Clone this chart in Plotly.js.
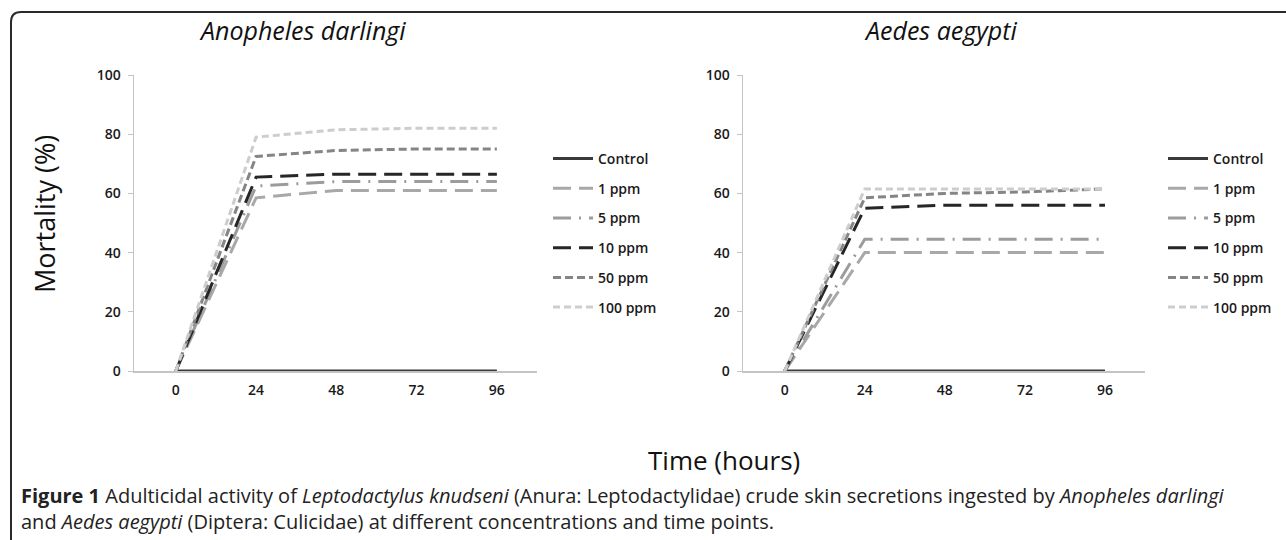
<!DOCTYPE html>
<html>
<head>
<meta charset="utf-8">
<script src="https://cdn.plot.ly/plotly-3.0.1.min.js"></script>
<style>
  html, body { margin: 0; padding: 0; background: #fff; }
  #chart { width: 1286px; height: 540px; }
</style>
</head>
<body>
<div id="chart"></div>
<script>
// ---- data ----
const hours = [0, 24, 48, 72, 96];
const hourLabels = ['0', '24', '48', '72', '96'];
const yTicks = [0, 20, 40, 60, 80, 100];
const seriesNames = ['Control', '1 ppm', '5 ppm', '10 ppm', '50 ppm', '100 ppm'];

const anophelesControl = [0, 0, 0, 0, 0];
const anopheles1ppm    = [0, 58.5, 61, 61, 61];
const anopheles5ppm    = [0, 62.5, 64, 64, 64];
const anopheles10ppm   = [0, 65.5, 66.5, 66.5, 66.5];
const anopheles50ppm   = [0, 72.5, 74.5, 75, 75];
const anopheles100ppm  = [0, 79, 81.5, 82, 82];

const aedesControl = [0, 0, 0, 0, 0];
const aedes1ppm    = [0, 40, 40, 40, 40];
const aedes5ppm    = [0, 44.5, 44.5, 44.5, 44.5];
const aedes10ppm   = [0, 55, 56, 56, 56];
const aedes50ppm   = [0, 58.5, 60, 60.5, 61.5];
const aedes100ppm  = [0, 61.5, 61.5, 61.5, 61.5];

const panelTitles = ['Anopheles darlingi', 'Aedes aegypti'];
const yTitle = 'Mortality (%)';
const xTitle = 'Time (hours)';
const captionLine1 = '<b>Figure 1</b> Adulticidal activity of <i>Leptodactylus knudseni</i> (Anura: Leptodactylidae) crude skin secretions ingested by <i>Anopheles darlingi</i>';
const captionLine2 = 'and <i>Aedes aegypti</i> (Diptera: Culicidae) at different concentrations and time points.';

// ---- styles ----
const styles = [
  {color: '#3a3a3a', width: 3, dash: 'solid'},
  {color: '#a8a8a8', width: 3, dash: '18px,8px'},
  {color: '#9c9c9c', width: 3, dash: '18px,8px,2px,8px'},
  {color: '#262626', width: 3, dash: '18px,8px'},
  {color: '#858585', width: 3, dash: '8px,4px'},
  {color: '#cdcdcd', width: 3, dash: '7px,4px'}
];

const W = 1286, H = 540;
const px = v => v / W;
const py = v => 1 - v / H;

const leftSets = [anophelesControl, anopheles1ppm, anopheles5ppm, anopheles10ppm, anopheles50ppm, anopheles100ppm];
const rightSets = [aedesControl, aedes1ppm, aedes5ppm, aedes10ppm, aedes50ppm, aedes100ppm];

const traces = [];
leftSets.forEach((ys, i) => {
  traces.push({
    x: hours, y: ys, type: 'scatter', mode: 'lines', name: seriesNames[i],
    xaxis: 'x', yaxis: 'y', legend: 'legend', legendgroup: 'L' + i,
    line: Object.assign({}, styles[i]), hoverinfo: 'skip'
  });
});
rightSets.forEach((ys, i) => {
  traces.push({
    x: hours, y: ys, type: 'scatter', mode: 'lines', name: seriesNames[i],
    xaxis: 'x2', yaxis: 'y2', legend: 'legend2', legendgroup: 'R' + i,
    line: Object.assign({}, styles[i]), hoverinfo: 'skip'
  });
});

const tickFont = {family: 'Open Sans, sans-serif', size: 14, color: '#1a1a1a', weight: 600};
const axisColor = '#c4c4c4';
const xRange = [-12.5, 108];

function xAxis(domain, anchor) {
  return {
    domain: domain, range: xRange, anchor: anchor,
    tickmode: 'array', tickvals: hours, ticktext: hourLabels,
    ticks: '', showgrid: false, zeroline: false,
    showline: true, linecolor: axisColor, linewidth: 1.5,
    tickfont: tickFont, ticklabelstandoff: 6, fixedrange: true
  };
}
function yAxis(domain, anchor) {
  return {
    domain: domain, range: [0, 100], anchor: anchor,
    tickmode: 'array', tickvals: yTicks,
    ticks: 'outside', ticklen: 5, tickcolor: axisColor, tickwidth: 1,
    showgrid: false, zeroline: false,
    showline: true, linecolor: axisColor, linewidth: 1.5,
    tickfont: tickFont, ticklabelstandoff: 4, fixedrange: true
  };
}

const yDom = [py(371), py(75)];
const xDomL = [px(134), px(537)];
const xDomR = [px(743), px(1145)];

const legendBase = {
  traceorder: 'grouped', tracegroupgap: 8.5,
  font: {family: 'Open Sans, sans-serif', size: 14, color: '#1a1a1a', weight: 600},
  bgcolor: 'rgba(0,0,0,0)', borderwidth: 0,
  xanchor: 'left', yanchor: 'top', itemwidth: 40
};

const layout = {
  width: W, height: H,
  margin: {l: 0, r: 0, t: 0, b: 0},
  paper_bgcolor: '#ffffff', plot_bgcolor: '#ffffff',
  showlegend: true,
  xaxis: xAxis(xDomL, 'y'),
  yaxis: yAxis(yDom, 'x'),
  xaxis2: xAxis(xDomR, 'y2'),
  yaxis2: yAxis(yDom, 'x2'),
  // tick marks between categories on right panel
  xaxis3: {
    overlaying: 'x2', anchor: 'y2', range: xRange, domain: xDomR,
    tickmode: 'array', tickvals: [12, 36, 60, 84, 108],
    ticks: 'outside', ticklen: 5, tickcolor: axisColor, tickwidth: 1,
    showticklabels: false, showline: false, showgrid: false, zeroline: false,
    fixedrange: true
  },
  legend: Object.assign({}, legendBase, {x: px(548), y: py(143)}),
  legend2: Object.assign({}, legendBase, {x: px(1163), y: py(143)}),
  annotations: [
    {text: panelTitles[0], xref: 'paper', yref: 'paper', x: px(302), y: py(30),
     showarrow: false, xanchor: 'center', yanchor: 'middle',
     font: {family: 'Open Sans, sans-serif', size: 25, color: '#111', style: 'italic'}},
    {text: panelTitles[1], xref: 'paper', yref: 'paper', x: px(940), y: py(30),
     showarrow: false, xanchor: 'center', yanchor: 'middle',
     font: {family: 'Open Sans, sans-serif', size: 25, color: '#111', style: 'italic'}},
    {text: yTitle, xref: 'paper', yref: 'paper', x: px(44), y: py(214), textangle: -90,
     showarrow: false, xanchor: 'center', yanchor: 'middle',
     font: {family: 'Open Sans, sans-serif', size: 27, color: '#111'}},
    {text: xTitle, xref: 'paper', yref: 'paper', x: px(724), y: py(460),
     showarrow: false, xanchor: 'center', yanchor: 'middle',
     font: {family: 'Open Sans, sans-serif', size: 26, color: '#111'}},
    {text: captionLine1 + '<br>' + captionLine2,
     xref: 'paper', yref: 'paper', x: px(19), y: py(509), showarrow: false,
     xanchor: 'left', yanchor: 'middle', align: 'left',
     font: {family: 'Open Sans, sans-serif', size: 20, color: '#222'}}
  ],
  shapes: [
    {type: 'path', xref: 'paper', yref: 'paper',
     path: `M ${px(11)},${py(540)} L ${px(11)},${py(22)} Q ${px(11)},${py(12)} ${px(21)},${py(12)} L ${px(1286)},${py(12)}`,
     line: {color: '#2a2a2a', width: 2}}
  ]
};

Plotly.newPlot('chart', traces, layout, {staticPlot: true, displayModeBar: false});
</script>
</body>
</html>
